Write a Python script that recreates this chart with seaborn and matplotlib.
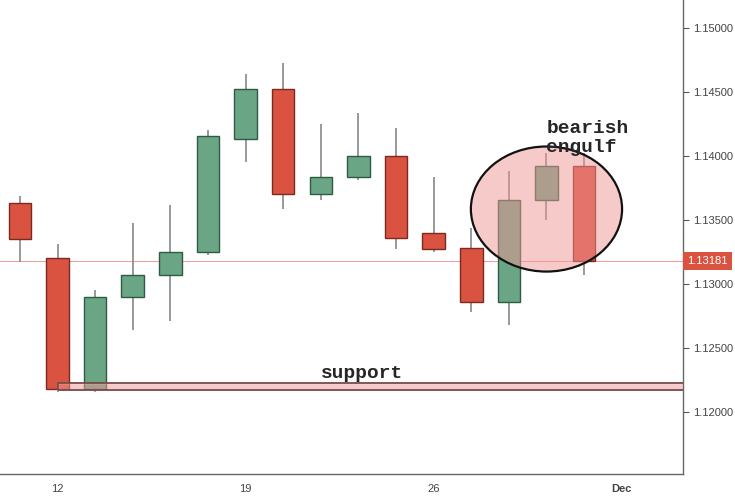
import matplotlib
matplotlib.use("Agg")
import matplotlib.pyplot as plt
import seaborn as sns
import pandas as pd
from matplotlib.patches import Ellipse, Rectangle

# EUR/USD daily candles, 9 Nov - 30 Nov (trading days only)
dates = ["2018-11-09", "2018-11-12", "2018-11-13", "2018-11-14", "2018-11-15", "2018-11-16",
         "2018-11-19", "2018-11-20", "2018-11-21", "2018-11-22", "2018-11-23",
         "2018-11-26", "2018-11-27", "2018-11-28", "2018-11-29", "2018-11-30"]
opens = [1.1363, 1.1320, 1.1218, 1.1290, 1.1307, 1.1325, 1.1413, 1.1452,
         1.1370, 1.1384, 1.1400, 1.1340, 1.1328, 1.1286, 1.1366, 1.1392]
highs = [1.1369, 1.1331, 1.1295, 1.1348, 1.1362, 1.1420, 1.1464, 1.1473,
         1.1425, 1.1434, 1.1422, 1.1384, 1.1344, 1.1388, 1.1402, 1.1402]
lows = [1.1317, 1.1216, 1.1216, 1.1264, 1.1271, 1.1323, 1.1395, 1.1359,
        1.1366, 1.1381, 1.1327, 1.1325, 1.1278, 1.1268, 1.1350, 1.1307]
closes = [1.1335, 1.1218, 1.1290, 1.1307, 1.1325, 1.1416, 1.1452, 1.1370,
          1.1384, 1.1400, 1.1336, 1.1327, 1.1286, 1.1366, 1.1392, 1.13181]

last_price = 1.13181
support_low = 1.1217
support_high = 1.1223
tick_labels = ["12", "19", "26", "Dec"]
tick_pos = [1, 6, 11, 16]
y_ticks = [1.12, 1.125, 1.13, 1.135, 1.14, 1.145, 1.15]

df = pd.DataFrame({"date": pd.to_datetime(dates), "open": opens, "high": highs,
                   "low": lows, "close": closes})
df["i"] = range(len(df))
df["up"] = df["close"] >= df["open"]

sns.set_style("white")
plt.rcParams['font.family'] = ['Liberation Sans', 'DejaVu Sans']

fig = plt.figure(figsize=(7.35, 5.0), dpi=100)
ax = fig.add_axes([0, 26 / 500, 683 / 735, 474 / 500])

red, red_edge = "#d95340", "#7a2a20"
green, green_edge = "#6aa685", "#2e5b44"

# price line
ax.axhline(last_price, color="#f4a0a0", lw=0.75, zorder=1, snap=True)

# wicks
ax.vlines(df["i"], df["low"], df["high"], color="#888888", lw=1.2, zorder=2)

# bodies
for up, fc, ec in [(True, green, green_edge), (False, red, red_edge)]:
    d = df[df["up"] == up]
    ax.bar(d["i"], d["close"] - d["open"], bottom=d["open"], width=0.6,
           color=fc, edgecolor=ec, linewidth=1.0, zorder=3)

# support zone
ax.add_patch(Rectangle((1, support_low), 20, support_high - support_low,
                       facecolor="#f09696", alpha=0.5, zorder=4))
ax.add_patch(Rectangle((1, support_low), 20, support_high - support_low,
                       facecolor="none", edgecolor="#7a4848", lw=1.3, zorder=4))
ax.text(9.1, support_high + 0.00003, "support", family="Liberation Mono",
        fontweight="bold", fontsize=14, ha="center", va="bottom", zorder=6)

# bearish engulfing
ax.add_patch(Ellipse((14, 1.13586), 4.02, 0.00977, facecolor="#f09696",
                     alpha=0.5, zorder=4))
ax.add_patch(Ellipse((14, 1.13586), 4.02, 0.00977, facecolor="none",
                     edgecolor="#111111", lw=1.6, zorder=5))
ax.text(14.0, 1.1428, "bearish\nengulf", family="Liberation Mono",
        fontweight="bold", fontsize=14, ha="left", va="top",
        linespacing=1.15, zorder=6)

ax.set_xlim(-0.53, 17.63)
ax.set_ylim(1.11516, 1.15219)

ax.yaxis.tick_right()
ax.set_yticks(y_ticks)
ax.set_yticklabels([f"{v:.5f}" for v in y_ticks])
ax.set_xticks(tick_pos)
ax.set_xticklabels(tick_labels)
ax.get_xticklabels()[-1].set_fontweight("bold")
ax.tick_params(axis="both", colors="#555555", labelsize=8, length=4,
               width=0.8, direction="out")
ax.tick_params(axis="both", labelcolor="#444444")

for s in ["left", "top"]:
    ax.spines[s].set_visible(False)
for s in ["right", "bottom"]:
    ax.spines[s].set_color("#666666")
    ax.spines[s].set_linewidth(1.0)

# last price label
ax.annotate(f"{last_price:.5f}", xy=(1.0, last_price), xycoords=("axes fraction", "data"),
            xytext=(3, 0), textcoords="offset points", ha="left", va="center",
            fontsize=8, color="white", annotation_clip=False,
            bbox=dict(boxstyle="square,pad=0.35", fc="#d95340", ec="none"))

fig.savefig("out.png", dpi=100)
